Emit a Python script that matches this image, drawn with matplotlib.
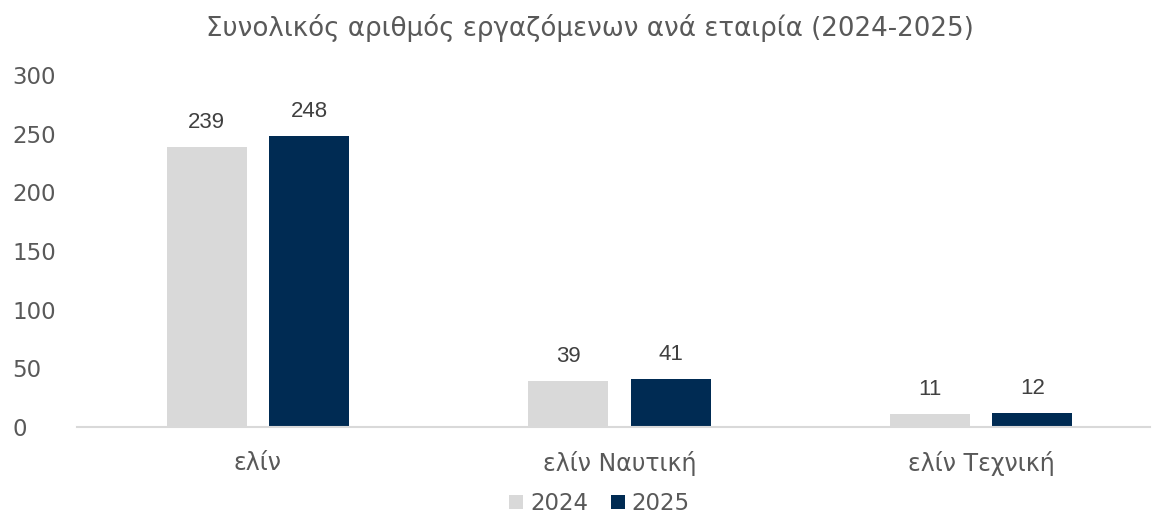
import matplotlib
matplotlib.use("Agg")
import matplotlib.pyplot as plt
import numpy as np

# δεδομένα
categories = ['ελίν', 'ελίν Ναυτική', 'ελίν Τεχνική']
years = ['2024', '2025']
values_2024 = [239, 39, 11]
values_2025 = [248, 41, 12]

col_2024 = '#d9d9d9'
col_2025 = '#002b53'
txt = '#595959'

plt.rcParams['font.family'] = ['DejaVu Sans']

fig = plt.figure(figsize=(11.53, 5.2), dpi=100)
ax = fig.add_axes([0.0668, 0.1788, 0.9306, 0.677])

x = np.arange(len(categories))
w = 0.221
off = 0.1415
b1 = ax.bar(x - off, values_2024, w, color=col_2024, label=years[0])
b2 = ax.bar(x + off, values_2025, w, color=col_2025, label=years[1])

for bars, vals in ((b1, values_2024), (b2, values_2025)):
    for rect, v in zip(bars, vals):
        ax.annotate(str(v), (rect.get_x() + rect.get_width() / 2, v),
                    xytext=(0, 10), textcoords='offset points',
                    ha='center', va='bottom', fontsize=16, color='#404040',
                    family='Liberation Sans')

ax.set_xlim(-0.5, 2.467)
ax.set_ylim(0, 300)
ax.set_yticks(range(0, 301, 50))
ax.set_xticks(x)
ax.set_xticklabels(categories, fontsize=17)
ax.tick_params(axis='both', length=0, labelcolor=txt)
ax.tick_params(axis='y', labelsize=16.5, pad=46.8)
ax.tick_params(axis='x', pad=17)
plt.setp(ax.get_yticklabels(), ha='left')

for s in ['top', 'right', 'left']:
    ax.spines[s].set_visible(False)
ax.spines['bottom'].set_color('#d9d9d9')
ax.spines['bottom'].set_linewidth(1.5)

fig.suptitle('Συνολικός αριθμός εργαζόμενων ανά εταιρία (2024-2025)',
             x=0.512, y=0.946, va='center', fontsize=18.8, color=txt)

leg = fig.legend(loc='lower center', bbox_to_anchor=(0.52, -0.03), ncol=2,
                 frameon=False, fontsize=16.5, handlelength=0.6, handleheight=0.6,
                 handletextpad=0.3, columnspacing=1.0)
for t in leg.get_texts():
    t.set_color(txt)

fig.savefig('out.png', dpi=100)
